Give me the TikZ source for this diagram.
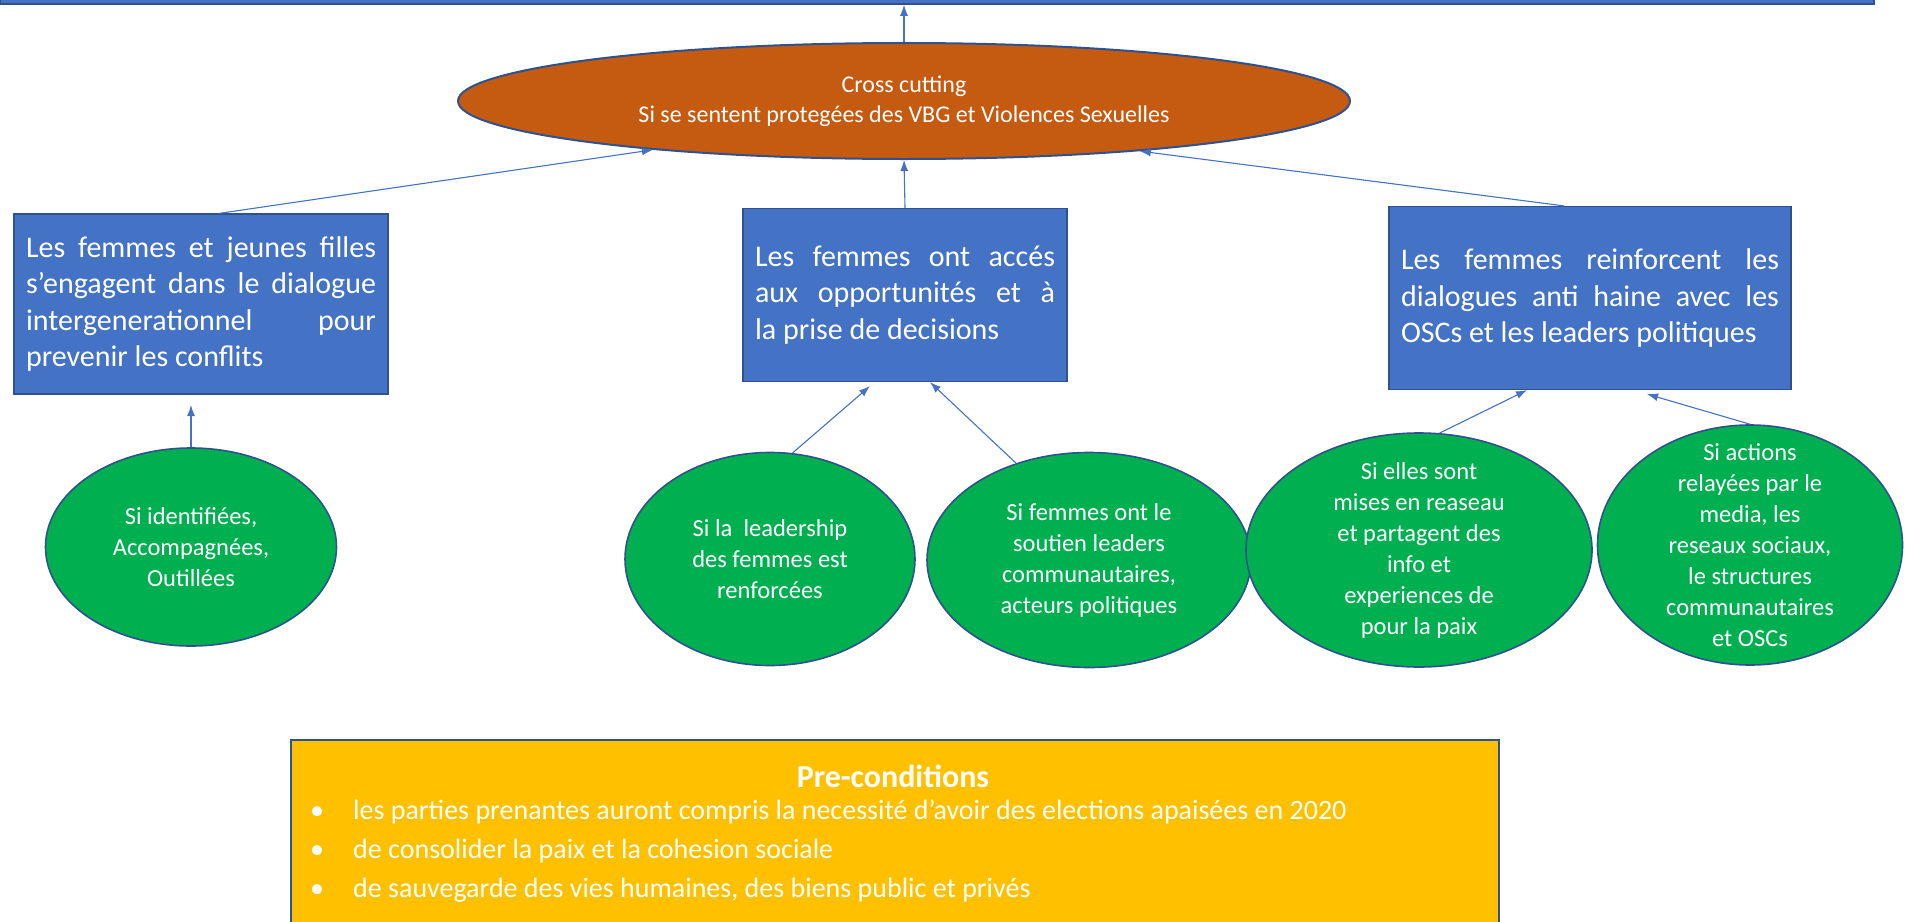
\documentclass[tikz,border=0pt]{standalone}
\usepackage{fontspec}
\setmainfont{Carlito}
\usetikzlibrary{shapes.geometric,arrows.meta}
\definecolor{boxblue}{HTML}{4472C4}
\definecolor{edgeblue}{HTML}{2F528F}
\definecolor{crossorange}{HTML}{C55A11}
\definecolor{condgreen}{HTML}{00B050}
\definecolor{preyellow}{HTML}{FFC000}
\begin{document}
\begin{tikzpicture}[x=1pt,y=-1pt,
    outcome/.style={rectangle,draw=edgeblue,line width=1.2pt,fill=boxblue,text=white,
      align=justify,inner xsep=12pt,font=\fontsize{30}{36.5}\selectfont},
    cond/.style={ellipse,draw=edgeblue,line width=1.6pt,fill=condgreen,text=white,
      align=center,inner sep=-20pt,font=\fontsize{24.5}{31}\selectfont},
    link/.style={-{Latex[length=11pt,width=8pt]},draw=boxblue,line width=1.1pt}]
  \useasboundingbox (0,0) rectangle (1908,921);
  \node[rectangle,fill=boxblue,draw=edgeblue,line width=1.5pt,
    minimum width=1874pt,minimum height=40pt] (goal) at (937,-16) {};
  \node[ellipse,draw=edgeblue,line width=2pt,fill=crossorange,text=white,align=center,
    inner sep=0pt,minimum width=892pt,minimum height=116pt,
    font=\fontsize{24}{30}\selectfont] (cc) at (904,101)
    {Cross cutting\\Si se sentent protegées des VBG et Violences Sexuelles};
  \node[outcome,text width=350pt,minimum width=374pt,minimum height=180pt] (box1) at (201,304)
    {Les femmes et jeunes filles\linebreak s’engagent dans le dialogue\linebreak
     intergenerationnel pour\linebreak prevenir les conflits};
  \node[outcome,text width=300pt,minimum width=324pt,minimum height=173pt] (box2) at (905,295)
    {Les femmes ont accés\linebreak aux opportunités et à\linebreak la prise de decisions};
  \node[outcome,text width=378pt,minimum width=402pt,minimum height=183pt] (box3) at (1590,298)
    {Les femmes reinforcent les\linebreak dialogues anti haine avec les\linebreak
     OSCs et les leaders politiques};
  \node[cond,minimum width=291pt,minimum height=198pt] (g1) at (191,547)
    {Si identifiées,\\Accompagnées,\\Outillées};
  \node[cond,minimum width=290pt,minimum height=213pt] (g2) at (770,559)
    {Si la \ leadership\\des femmes est\\renforcées};
  \node[cond,minimum width=324pt,minimum height=215pt] (g3) at (1089,560)
    {Si femmes ont le\\soutien leaders\\communautaires,\\acteurs politiques};
  \node[cond,minimum width=346pt,minimum height=234pt] (g4) at (1419,550)
    {Si elles sont\\mises en reaseau\\et partagent des\\info et\\experiences de\\pour la paix};
  \node[cond,minimum width=305pt,minimum height=240pt] (g5) at (1750,545)
    {Si actions\\relayées par le\\media, les\\reseaux sociaux,\\le structures\\communautaires\\et OSCs};
  \node[rectangle,fill=preyellow,draw=edgeblue,line width=1.5pt,anchor=north west,
    minimum width=1208pt,minimum height=200pt] (pre) at (290,739) {};
  \node[text=white,font=\fontsize{32}{38}\selectfont\bfseries] (pretitle) at (893,776) {Pre-conditions};
  \node[text=white,anchor=west,align=left,inner sep=0pt,font=\fontsize{28}{39}\selectfont] (prelist) at (310,851)
    {\makebox[43pt][l]{•}les parties prenantes auront compris la necessité d’avoir des elections apaisées en 2020\\
     \makebox[43pt][l]{•}de consolider la paix et la cohesion sociale\\
     \makebox[43pt][l]{•}de sauvegarde des vies humaines, des biens public et privés};
  \coordinate (t1) at (191,405);
  \begin{scope}[link]
    \draw (cc.north) to (cc.north |- goal.south);
    \draw ([xshift=18pt]box1.north) to (cc.191.5);
    \draw (box2.north) to (cc.south);
    \draw ([xshift=-26pt]box3.north) to (cc.348.5);
    \draw (g1.north) to (t1);
    \draw (g2.78) to ([xshift=-35pt,yshift=-4pt]box2.south);
    \draw (g3.127) to ([xshift=25pt]box2.south);
    \draw (g4.80) to ([xshift=-63pt]box3.south);
    \draw (g5.north) to ([xshift=57pt,yshift=-4pt]box3.south);
  \end{scope}
\end{tikzpicture}
\end{document}
